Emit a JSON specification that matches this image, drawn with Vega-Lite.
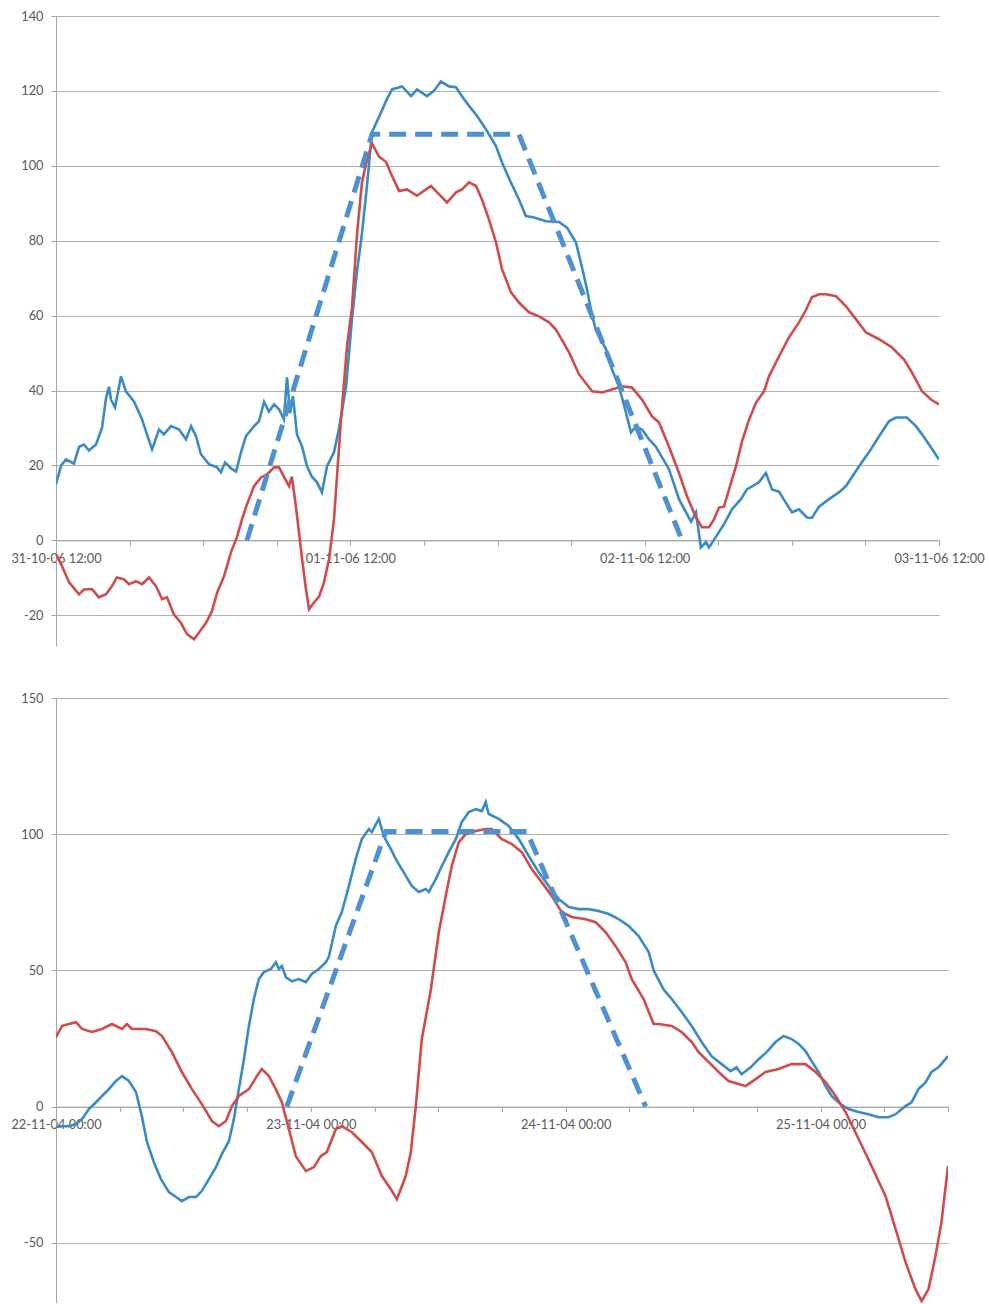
{
  "$schema": "https://vega.github.io/schema/vega-lite/v6.json",
  "background": "white",
  "padding": {"left": 10, "top": 10, "right": 0, "bottom": 0},
  "spacing": 52,
  "bounds": "flush",
  "config": {
    "view": {"stroke": null},
    "axis": {
      "labelFont": "Lato",
      "labelFontSize": 12.8,
      "labelColor": "#595959",
      "domainColor": "#a6a6a6",
      "tickColor": "#a6a6a6",
      "gridColor": "#b0b0b0",
      "domainWidth": 1,
      "gridWidth": 1,
      "tickWidth": 1,
      "title": null
    }
  },
  "datasets": {
    "top": [
      {"t": "2006-10-31T12:00", "v": 15, "series": "Series 1"},
      {"t": "2006-10-31T12:25", "v": 20, "series": "Series 1"},
      {"t": "2006-10-31T12:49", "v": 21.6, "series": "Series 1"},
      {"t": "2006-10-31T13:28", "v": 20.5, "series": "Series 1"},
      {"t": "2006-10-31T13:53", "v": 25, "series": "Series 1"},
      {"t": "2006-10-31T14:17", "v": 25.6, "series": "Series 1"},
      {"t": "2006-10-31T14:41", "v": 24, "series": "Series 1"},
      {"t": "2006-10-31T15:16", "v": 25.6, "series": "Series 1"},
      {"t": "2006-10-31T15:45", "v": 30, "series": "Series 1"},
      {"t": "2006-10-31T16:05", "v": 38, "series": "Series 1"},
      {"t": "2006-10-31T16:19", "v": 41, "series": "Series 1"},
      {"t": "2006-10-31T16:29", "v": 37.6, "series": "Series 1"},
      {"t": "2006-10-31T16:49", "v": 35.5, "series": "Series 1"},
      {"t": "2006-10-31T17:18", "v": 43.8, "series": "Series 1"},
      {"t": "2006-10-31T17:42", "v": 39.8, "series": "Series 1"},
      {"t": "2006-10-31T18:22", "v": 37, "series": "Series 1"},
      {"t": "2006-10-31T19:01", "v": 32.3, "series": "Series 1"},
      {"t": "2006-10-31T19:25", "v": 28.3, "series": "Series 1"},
      {"t": "2006-10-31T19:50", "v": 24.3, "series": "Series 1"},
      {"t": "2006-10-31T20:24", "v": 29.6, "series": "Series 1"},
      {"t": "2006-10-31T20:48", "v": 28.3, "series": "Series 1"},
      {"t": "2006-10-31T21:23", "v": 30.5, "series": "Series 1"},
      {"t": "2006-10-31T22:02", "v": 29.6, "series": "Series 1"},
      {"t": "2006-10-31T22:36", "v": 27, "series": "Series 1"},
      {"t": "2006-10-31T23:01", "v": 30.5, "series": "Series 1"},
      {"t": "2006-10-31T23:25", "v": 27.8, "series": "Series 1"},
      {"t": "2006-10-31T23:49", "v": 23, "series": "Series 1"},
      {"t": "2006-11-01T00:29", "v": 20.3, "series": "Series 1"},
      {"t": "2006-11-01T01:08", "v": 19.5, "series": "Series 1"},
      {"t": "2006-11-01T01:27", "v": 18.2, "series": "Series 1"},
      {"t": "2006-11-01T01:47", "v": 20.8, "series": "Series 1"},
      {"t": "2006-11-01T02:21", "v": 19, "series": "Series 1"},
      {"t": "2006-11-01T02:41", "v": 18.4, "series": "Series 1"},
      {"t": "2006-11-01T03:05", "v": 23.5, "series": "Series 1"},
      {"t": "2006-11-01T03:29", "v": 27.8, "series": "Series 1"},
      {"t": "2006-11-01T04:09", "v": 30.5, "series": "Series 1"},
      {"t": "2006-11-01T04:33", "v": 31.8, "series": "Series 1"},
      {"t": "2006-11-01T04:58", "v": 37, "series": "Series 1"},
      {"t": "2006-11-01T05:22", "v": 34.4, "series": "Series 1"},
      {"t": "2006-11-01T05:47", "v": 36.3, "series": "Series 1"},
      {"t": "2006-11-01T06:11", "v": 35, "series": "Series 1"},
      {"t": "2006-11-01T06:35", "v": 32.3, "series": "Series 1"},
      {"t": "2006-11-01T06:50", "v": 43.5, "series": "Series 1"},
      {"t": "2006-11-01T07:05", "v": 34, "series": "Series 1"},
      {"t": "2006-11-01T07:19", "v": 38.5, "series": "Series 1"},
      {"t": "2006-11-01T07:39", "v": 28.3, "series": "Series 1"},
      {"t": "2006-11-01T08:04", "v": 25, "series": "Series 1"},
      {"t": "2006-11-01T08:28", "v": 19.8, "series": "Series 1"},
      {"t": "2006-11-01T08:52", "v": 17, "series": "Series 1"},
      {"t": "2006-11-01T09:17", "v": 15.5, "series": "Series 1"},
      {"t": "2006-11-01T09:41", "v": 12.8, "series": "Series 1"},
      {"t": "2006-11-01T10:06", "v": 19.8, "series": "Series 1"},
      {"t": "2006-11-01T10:40", "v": 23.5, "series": "Series 1"},
      {"t": "2006-11-01T11:05", "v": 30, "series": "Series 1"},
      {"t": "2006-11-01T11:39", "v": 41, "series": "Series 1"},
      {"t": "2006-11-01T12:08", "v": 59, "series": "Series 1"},
      {"t": "2006-11-01T12:33", "v": 72, "series": "Series 1"},
      {"t": "2006-11-01T12:57", "v": 82, "series": "Series 1"},
      {"t": "2006-11-01T13:22", "v": 95, "series": "Series 1"},
      {"t": "2006-11-01T13:46", "v": 109, "series": "Series 1"},
      {"t": "2006-11-01T14:20", "v": 113, "series": "Series 1"},
      {"t": "2006-11-01T14:59", "v": 117.8, "series": "Series 1"},
      {"t": "2006-11-01T15:24", "v": 120.4, "series": "Series 1"},
      {"t": "2006-11-01T16:13", "v": 121.2, "series": "Series 1"},
      {"t": "2006-11-01T16:57", "v": 118.6, "series": "Series 1"},
      {"t": "2006-11-01T17:26", "v": 120.4, "series": "Series 1"},
      {"t": "2006-11-01T18:15", "v": 118.6, "series": "Series 1"},
      {"t": "2006-11-01T18:49", "v": 120, "series": "Series 1"},
      {"t": "2006-11-01T19:23", "v": 122.5, "series": "Series 1"},
      {"t": "2006-11-01T20:03", "v": 121.2, "series": "Series 1"},
      {"t": "2006-11-01T20:37", "v": 121, "series": "Series 1"},
      {"t": "2006-11-01T21:06", "v": 118.6, "series": "Series 1"},
      {"t": "2006-11-01T21:41", "v": 116, "series": "Series 1"},
      {"t": "2006-11-01T22:20", "v": 113.3, "series": "Series 1"},
      {"t": "2006-11-01T23:04", "v": 109.7, "series": "Series 1"},
      {"t": "2006-11-01T23:53", "v": 105.2, "series": "Series 1"},
      {"t": "2006-11-02T00:22", "v": 100.9, "series": "Series 1"},
      {"t": "2006-11-02T01:06", "v": 95.5, "series": "Series 1"},
      {"t": "2006-11-02T01:45", "v": 91, "series": "Series 1"},
      {"t": "2006-11-02T02:19", "v": 86.6, "series": "Series 1"},
      {"t": "2006-11-02T02:59", "v": 86.2, "series": "Series 1"},
      {"t": "2006-11-02T03:57", "v": 85.2, "series": "Series 1"},
      {"t": "2006-11-02T05:01", "v": 85, "series": "Series 1"},
      {"t": "2006-11-02T05:40", "v": 83.5, "series": "Series 1"},
      {"t": "2006-11-02T06:24", "v": 79.5, "series": "Series 1"},
      {"t": "2006-11-02T06:53", "v": 73, "series": "Series 1"},
      {"t": "2006-11-02T07:18", "v": 67, "series": "Series 1"},
      {"t": "2006-11-02T07:43", "v": 60, "series": "Series 1"},
      {"t": "2006-11-02T08:02", "v": 56, "series": "Series 1"},
      {"t": "2006-11-02T08:51", "v": 51, "series": "Series 1"},
      {"t": "2006-11-02T09:20", "v": 45.7, "series": "Series 1"},
      {"t": "2006-11-02T09:55", "v": 41, "series": "Series 1"},
      {"t": "2006-11-02T10:29", "v": 34, "series": "Series 1"},
      {"t": "2006-11-02T10:53", "v": 28.8, "series": "Series 1"},
      {"t": "2006-11-02T11:17", "v": 30.4, "series": "Series 1"},
      {"t": "2006-11-02T11:47", "v": 29.6, "series": "Series 1"},
      {"t": "2006-11-02T12:21", "v": 27, "series": "Series 1"},
      {"t": "2006-11-02T12:55", "v": 25, "series": "Series 1"},
      {"t": "2006-11-02T13:59", "v": 19, "series": "Series 1"},
      {"t": "2006-11-02T14:48", "v": 11, "series": "Series 1"},
      {"t": "2006-11-02T15:47", "v": 5, "series": "Series 1"},
      {"t": "2006-11-02T16:11", "v": 7.5, "series": "Series 1"},
      {"t": "2006-11-02T16:35", "v": -1.9, "series": "Series 1"},
      {"t": "2006-11-02T17:00", "v": -0.5, "series": "Series 1"},
      {"t": "2006-11-02T17:15", "v": -1.9, "series": "Series 1"},
      {"t": "2006-11-02T17:49", "v": 1, "series": "Series 1"},
      {"t": "2006-11-02T18:28", "v": 4.3, "series": "Series 1"},
      {"t": "2006-11-02T19:07", "v": 8.3, "series": "Series 1"},
      {"t": "2006-11-02T19:51", "v": 11, "series": "Series 1"},
      {"t": "2006-11-02T20:20", "v": 13.6, "series": "Series 1"},
      {"t": "2006-11-02T21:19", "v": 15.5, "series": "Series 1"},
      {"t": "2006-11-02T21:53", "v": 18, "series": "Series 1"},
      {"t": "2006-11-02T22:23", "v": 13.6, "series": "Series 1"},
      {"t": "2006-11-02T22:57", "v": 13, "series": "Series 1"},
      {"t": "2006-11-02T23:31", "v": 10, "series": "Series 1"},
      {"t": "2006-11-03T00:01", "v": 7.5, "series": "Series 1"},
      {"t": "2006-11-03T00:35", "v": 8.3, "series": "Series 1"},
      {"t": "2006-11-03T01:14", "v": 6.1, "series": "Series 1"},
      {"t": "2006-11-03T01:38", "v": 6, "series": "Series 1"},
      {"t": "2006-11-03T02:13", "v": 9, "series": "Series 1"},
      {"t": "2006-11-03T03:02", "v": 11, "series": "Series 1"},
      {"t": "2006-11-03T03:50", "v": 12.8, "series": "Series 1"},
      {"t": "2006-11-03T04:25", "v": 14.5, "series": "Series 1"},
      {"t": "2006-11-03T04:55", "v": 17, "series": "Series 1"},
      {"t": "2006-11-03T05:29", "v": 19.8, "series": "Series 1"},
      {"t": "2006-11-03T06:17", "v": 23.5, "series": "Series 1"},
      {"t": "2006-11-03T07:07", "v": 27.8, "series": "Series 1"},
      {"t": "2006-11-03T07:55", "v": 31.8, "series": "Series 1"},
      {"t": "2006-11-03T08:29", "v": 32.8, "series": "Series 1"},
      {"t": "2006-11-03T09:23", "v": 32.8, "series": "Series 1"},
      {"t": "2006-11-03T10:07", "v": 30.5, "series": "Series 1"},
      {"t": "2006-11-03T10:37", "v": 28.3, "series": "Series 1"},
      {"t": "2006-11-03T11:21", "v": 24.8, "series": "Series 1"},
      {"t": "2006-11-03T12:00", "v": 21.6, "series": "Series 1"},
      {"t": "2006-10-31T12:00", "v": -3.7, "series": "Series 2"},
      {"t": "2006-10-31T12:25", "v": -6.4, "series": "Series 2"},
      {"t": "2006-10-31T13:04", "v": -11.2, "series": "Series 2"},
      {"t": "2006-10-31T13:53", "v": -14.4, "series": "Series 2"},
      {"t": "2006-10-31T14:17", "v": -13.1, "series": "Series 2"},
      {"t": "2006-10-31T14:56", "v": -13, "series": "Series 2"},
      {"t": "2006-10-31T15:30", "v": -15.2, "series": "Series 2"},
      {"t": "2006-10-31T16:05", "v": -14.4, "series": "Series 2"},
      {"t": "2006-10-31T16:34", "v": -12.2, "series": "Series 2"},
      {"t": "2006-10-31T16:58", "v": -9.9, "series": "Series 2"},
      {"t": "2006-10-31T17:33", "v": -10.4, "series": "Series 2"},
      {"t": "2006-10-31T17:57", "v": -11.7, "series": "Series 2"},
      {"t": "2006-10-31T18:31", "v": -10.9, "series": "Series 2"},
      {"t": "2006-10-31T19:01", "v": -11.7, "series": "Series 2"},
      {"t": "2006-10-31T19:35", "v": -9.9, "series": "Series 2"},
      {"t": "2006-10-31T20:09", "v": -12.2, "series": "Series 2"},
      {"t": "2006-10-31T20:39", "v": -15.7, "series": "Series 2"},
      {"t": "2006-10-31T21:03", "v": -15.2, "series": "Series 2"},
      {"t": "2006-10-31T21:37", "v": -19.8, "series": "Series 2"},
      {"t": "2006-10-31T22:11", "v": -22, "series": "Series 2"},
      {"t": "2006-10-31T22:41", "v": -25, "series": "Series 2"},
      {"t": "2006-10-31T23:15", "v": -26.4, "series": "Series 2"},
      {"t": "2006-10-31T23:40", "v": -24.6, "series": "Series 2"},
      {"t": "2006-11-01T00:14", "v": -22, "series": "Series 2"},
      {"t": "2006-11-01T00:43", "v": -18.9, "series": "Series 2"},
      {"t": "2006-11-01T01:08", "v": -14, "series": "Series 2"},
      {"t": "2006-11-01T01:42", "v": -9.6, "series": "Series 2"},
      {"t": "2006-11-01T02:16", "v": -3.2, "series": "Series 2"},
      {"t": "2006-11-01T02:46", "v": 1, "series": "Series 2"},
      {"t": "2006-11-01T03:10", "v": 5.6, "series": "Series 2"},
      {"t": "2006-11-01T03:34", "v": 9.6, "series": "Series 2"},
      {"t": "2006-11-01T04:09", "v": 14.5, "series": "Series 2"},
      {"t": "2006-11-01T04:43", "v": 16.8, "series": "Series 2"},
      {"t": "2006-11-01T05:12", "v": 17.6, "series": "Series 2"},
      {"t": "2006-11-01T05:47", "v": 19.5, "series": "Series 2"},
      {"t": "2006-11-01T06:11", "v": 19.5, "series": "Series 2"},
      {"t": "2006-11-01T06:35", "v": 17, "series": "Series 2"},
      {"t": "2006-11-01T07:00", "v": 14.5, "series": "Series 2"},
      {"t": "2006-11-01T07:14", "v": 17, "series": "Series 2"},
      {"t": "2006-11-01T07:34", "v": 9, "series": "Series 2"},
      {"t": "2006-11-01T07:49", "v": 2, "series": "Series 2"},
      {"t": "2006-11-01T08:04", "v": -5, "series": "Series 2"},
      {"t": "2006-11-01T08:23", "v": -13, "series": "Series 2"},
      {"t": "2006-11-01T08:38", "v": -18.4, "series": "Series 2"},
      {"t": "2006-11-01T09:02", "v": -16.6, "series": "Series 2"},
      {"t": "2006-11-01T09:27", "v": -15, "series": "Series 2"},
      {"t": "2006-11-01T09:51", "v": -11.2, "series": "Series 2"},
      {"t": "2006-11-01T10:16", "v": -5, "series": "Series 2"},
      {"t": "2006-11-01T10:40", "v": 5.6, "series": "Series 2"},
      {"t": "2006-11-01T11:14", "v": 32, "series": "Series 2"},
      {"t": "2006-11-01T11:44", "v": 52, "series": "Series 2"},
      {"t": "2006-11-01T12:08", "v": 62, "series": "Series 2"},
      {"t": "2006-11-01T12:33", "v": 82, "series": "Series 2"},
      {"t": "2006-11-01T12:57", "v": 95.6, "series": "Series 2"},
      {"t": "2006-11-01T13:22", "v": 101.7, "series": "Series 2"},
      {"t": "2006-11-01T13:46", "v": 106, "series": "Series 2"},
      {"t": "2006-11-01T14:20", "v": 102.5, "series": "Series 2"},
      {"t": "2006-11-01T14:55", "v": 101, "series": "Series 2"},
      {"t": "2006-11-01T15:24", "v": 97.3, "series": "Series 2"},
      {"t": "2006-11-01T15:58", "v": 93.3, "series": "Series 2"},
      {"t": "2006-11-01T16:37", "v": 93.7, "series": "Series 2"},
      {"t": "2006-11-01T17:26", "v": 92, "series": "Series 2"},
      {"t": "2006-11-01T18:10", "v": 93.7, "series": "Series 2"},
      {"t": "2006-11-01T18:35", "v": 94.6, "series": "Series 2"},
      {"t": "2006-11-01T19:14", "v": 92.4, "series": "Series 2"},
      {"t": "2006-11-01T19:53", "v": 90.2, "series": "Series 2"},
      {"t": "2006-11-01T20:37", "v": 92.9, "series": "Series 2"},
      {"t": "2006-11-01T21:06", "v": 93.7, "series": "Series 2"},
      {"t": "2006-11-01T21:41", "v": 95.6, "series": "Series 2"},
      {"t": "2006-11-01T22:15", "v": 94.6, "series": "Series 2"},
      {"t": "2006-11-01T22:44", "v": 91, "series": "Series 2"},
      {"t": "2006-11-01T23:18", "v": 85.7, "series": "Series 2"},
      {"t": "2006-11-01T23:53", "v": 79.5, "series": "Series 2"},
      {"t": "2006-11-02T00:22", "v": 72.4, "series": "Series 2"},
      {"t": "2006-11-02T01:06", "v": 66.2, "series": "Series 2"},
      {"t": "2006-11-02T01:45", "v": 63.5, "series": "Series 2"},
      {"t": "2006-11-02T02:34", "v": 60.9, "series": "Series 2"},
      {"t": "2006-11-02T03:23", "v": 59.8, "series": "Series 2"},
      {"t": "2006-11-02T04:12", "v": 58.2, "series": "Series 2"},
      {"t": "2006-11-02T04:46", "v": 56.3, "series": "Series 2"},
      {"t": "2006-11-02T05:50", "v": 50.2, "series": "Series 2"},
      {"t": "2006-11-02T06:39", "v": 44.3, "series": "Series 2"},
      {"t": "2006-11-02T07:43", "v": 39.8, "series": "Series 2"},
      {"t": "2006-11-02T08:31", "v": 39.5, "series": "Series 2"},
      {"t": "2006-11-02T09:20", "v": 40.3, "series": "Series 2"},
      {"t": "2006-11-02T10:09", "v": 41.1, "series": "Series 2"},
      {"t": "2006-11-02T10:58", "v": 40.8, "series": "Series 2"},
      {"t": "2006-11-02T11:47", "v": 37.6, "series": "Series 2"},
      {"t": "2006-11-02T12:36", "v": 33.1, "series": "Series 2"},
      {"t": "2006-11-02T13:10", "v": 31.5, "series": "Series 2"},
      {"t": "2006-11-02T13:59", "v": 25, "series": "Series 2"},
      {"t": "2006-11-02T14:48", "v": 18, "series": "Series 2"},
      {"t": "2006-11-02T15:27", "v": 11.8, "series": "Series 2"},
      {"t": "2006-11-02T16:11", "v": 6.1, "series": "Series 2"},
      {"t": "2006-11-02T16:40", "v": 3.5, "series": "Series 2"},
      {"t": "2006-11-02T17:15", "v": 3.5, "series": "Series 2"},
      {"t": "2006-11-02T17:39", "v": 5.6, "series": "Series 2"},
      {"t": "2006-11-02T18:04", "v": 8.8, "series": "Series 2"},
      {"t": "2006-11-02T18:28", "v": 9, "series": "Series 2"},
      {"t": "2006-11-02T18:53", "v": 13.6, "series": "Series 2"},
      {"t": "2006-11-02T19:27", "v": 19.8, "series": "Series 2"},
      {"t": "2006-11-02T19:56", "v": 26.4, "series": "Series 2"},
      {"t": "2006-11-02T20:31", "v": 32.3, "series": "Series 2"},
      {"t": "2006-11-02T21:05", "v": 36.8, "series": "Series 2"},
      {"t": "2006-11-02T21:44", "v": 39.8, "series": "Series 2"},
      {"t": "2006-11-02T22:08", "v": 43.8, "series": "Series 2"},
      {"t": "2006-11-02T22:57", "v": 49.1, "series": "Series 2"},
      {"t": "2006-11-02T23:46", "v": 54.2, "series": "Series 2"},
      {"t": "2006-11-03T00:35", "v": 58.2, "series": "Series 2"},
      {"t": "2006-11-03T01:09", "v": 61.5, "series": "Series 2"},
      {"t": "2006-11-03T01:38", "v": 64.9, "series": "Series 2"},
      {"t": "2006-11-03T02:13", "v": 65.7, "series": "Series 2"},
      {"t": "2006-11-03T02:47", "v": 65.7, "series": "Series 2"},
      {"t": "2006-11-03T03:36", "v": 65.2, "series": "Series 2"},
      {"t": "2006-11-03T04:25", "v": 62.5, "series": "Series 2"},
      {"t": "2006-11-03T05:14", "v": 59, "series": "Series 2"},
      {"t": "2006-11-03T06:03", "v": 55.5, "series": "Series 2"},
      {"t": "2006-11-03T07:07", "v": 53.7, "series": "Series 2"},
      {"t": "2006-11-03T08:10", "v": 51.5, "series": "Series 2"},
      {"t": "2006-11-03T09:09", "v": 48.3, "series": "Series 2"},
      {"t": "2006-11-03T09:48", "v": 44.8, "series": "Series 2"},
      {"t": "2006-11-03T10:37", "v": 39.8, "series": "Series 2"},
      {"t": "2006-11-03T11:21", "v": 37.6, "series": "Series 2"},
      {"t": "2006-11-03T12:00", "v": 36.3, "series": "Series 2"},
      {"t": "2006-11-01T03:34", "v": 0, "series": "Series 3"},
      {"t": "2006-11-01T13:46", "v": 108.4, "series": "Series 3"},
      {"t": "2006-11-02T01:45", "v": 108.4, "series": "Series 3"},
      {"t": "2006-11-02T15:03", "v": 0, "series": "Series 3"}
    ],
    "bottom": [
      {"t": "2004-11-22T00:00", "v": -7.5, "series": "Series 1"},
      {"t": "2004-11-22T00:34", "v": -7.2, "series": "Series 1"},
      {"t": "2004-11-22T01:13", "v": -7.2, "series": "Series 1"},
      {"t": "2004-11-22T01:53", "v": -6.4, "series": "Series 1"},
      {"t": "2004-11-22T02:27", "v": -4.6, "series": "Series 1"},
      {"t": "2004-11-22T03:06", "v": -0.9, "series": "Series 1"},
      {"t": "2004-11-22T03:46", "v": 1.6, "series": "Series 1"},
      {"t": "2004-11-22T04:20", "v": 3.9, "series": "Series 1"},
      {"t": "2004-11-22T04:59", "v": 6.4, "series": "Series 1"},
      {"t": "2004-11-22T05:39", "v": 9.4, "series": "Series 1"},
      {"t": "2004-11-22T06:13", "v": 11.2, "series": "Series 1"},
      {"t": "2004-11-22T06:52", "v": 9.4, "series": "Series 1"},
      {"t": "2004-11-22T07:32", "v": 5.3, "series": "Series 1"},
      {"t": "2004-11-22T08:05", "v": -3.5, "series": "Series 1"},
      {"t": "2004-11-22T08:34", "v": -13, "series": "Series 1"},
      {"t": "2004-11-22T09:13", "v": -20.4, "series": "Series 1"},
      {"t": "2004-11-22T09:53", "v": -26.6, "series": "Series 1"},
      {"t": "2004-11-22T10:38", "v": -31.4, "series": "Series 1"},
      {"t": "2004-11-22T11:18", "v": -33.2, "series": "Series 1"},
      {"t": "2004-11-22T11:51", "v": -34.7, "series": "Series 1"},
      {"t": "2004-11-22T12:31", "v": -33.2, "series": "Series 1"},
      {"t": "2004-11-22T13:11", "v": -33.2, "series": "Series 1"},
      {"t": "2004-11-22T13:44", "v": -31, "series": "Series 1"},
      {"t": "2004-11-22T14:24", "v": -26.6, "series": "Series 1"},
      {"t": "2004-11-22T15:04", "v": -22.2, "series": "Series 1"},
      {"t": "2004-11-22T15:37", "v": -17.4, "series": "Series 1"},
      {"t": "2004-11-22T16:17", "v": -12.7, "series": "Series 1"},
      {"t": "2004-11-22T16:45", "v": -4.6, "series": "Series 1"},
      {"t": "2004-11-22T17:13", "v": 6.4, "series": "Series 1"},
      {"t": "2004-11-22T17:42", "v": 17.4, "series": "Series 1"},
      {"t": "2004-11-22T18:10", "v": 29.6, "series": "Series 1"},
      {"t": "2004-11-22T18:38", "v": 39.5, "series": "Series 1"},
      {"t": "2004-11-22T19:06", "v": 46.8, "series": "Series 1"},
      {"t": "2004-11-22T19:35", "v": 49.4, "series": "Series 1"},
      {"t": "2004-11-22T20:14", "v": 50.5, "series": "Series 1"},
      {"t": "2004-11-22T20:42", "v": 53, "series": "Series 1"},
      {"t": "2004-11-22T20:59", "v": 50.5, "series": "Series 1"},
      {"t": "2004-11-22T21:16", "v": 51.6, "series": "Series 1"},
      {"t": "2004-11-22T21:39", "v": 47.5, "series": "Series 1"},
      {"t": "2004-11-22T22:13", "v": 46, "series": "Series 1"},
      {"t": "2004-11-22T22:52", "v": 46.8, "series": "Series 1"},
      {"t": "2004-11-22T23:32", "v": 45.7, "series": "Series 1"},
      {"t": "2004-11-23T00:05", "v": 48.7, "series": "Series 1"},
      {"t": "2004-11-23T00:45", "v": 50.5, "series": "Series 1"},
      {"t": "2004-11-23T01:25", "v": 53, "series": "Series 1"},
      {"t": "2004-11-23T01:42", "v": 55, "series": "Series 1"},
      {"t": "2004-11-23T02:21", "v": 66.3, "series": "Series 1"},
      {"t": "2004-11-23T02:55", "v": 71.4, "series": "Series 1"},
      {"t": "2004-11-23T03:35", "v": 81, "series": "Series 1"},
      {"t": "2004-11-23T04:14", "v": 91, "series": "Series 1"},
      {"t": "2004-11-23T04:48", "v": 98.2, "series": "Series 1"},
      {"t": "2004-11-23T05:28", "v": 101.9, "series": "Series 1"},
      {"t": "2004-11-23T05:44", "v": 100.8, "series": "Series 1"},
      {"t": "2004-11-23T06:24", "v": 105.6, "series": "Series 1"},
      {"t": "2004-11-23T06:52", "v": 99.3, "series": "Series 1"},
      {"t": "2004-11-23T07:32", "v": 94.5, "series": "Series 1"},
      {"t": "2004-11-23T08:06", "v": 90.1, "series": "Series 1"},
      {"t": "2004-11-23T08:45", "v": 86, "series": "Series 1"},
      {"t": "2004-11-23T09:30", "v": 81, "series": "Series 1"},
      {"t": "2004-11-23T10:10", "v": 78.8, "series": "Series 1"},
      {"t": "2004-11-23T10:49", "v": 79.9, "series": "Series 1"},
      {"t": "2004-11-23T11:06", "v": 78.8, "series": "Series 1"},
      {"t": "2004-11-23T11:46", "v": 83.5, "series": "Series 1"},
      {"t": "2004-11-23T12:20", "v": 88.3, "series": "Series 1"},
      {"t": "2004-11-23T12:59", "v": 93.4, "series": "Series 1"},
      {"t": "2004-11-23T13:39", "v": 98.2, "series": "Series 1"},
      {"t": "2004-11-23T14:13", "v": 104.5, "series": "Series 1"},
      {"t": "2004-11-23T14:52", "v": 108.1, "series": "Series 1"},
      {"t": "2004-11-23T15:32", "v": 109.2, "series": "Series 1"},
      {"t": "2004-11-23T16:06", "v": 108.5, "series": "Series 1"},
      {"t": "2004-11-23T16:28", "v": 111.8, "series": "Series 1"},
      {"t": "2004-11-23T16:45", "v": 107.4, "series": "Series 1"},
      {"t": "2004-11-23T17:42", "v": 105.6, "series": "Series 1"},
      {"t": "2004-11-23T18:38", "v": 103, "series": "Series 1"},
      {"t": "2004-11-23T19:35", "v": 98.2, "series": "Series 1"},
      {"t": "2004-11-23T20:31", "v": 92, "series": "Series 1"},
      {"t": "2004-11-23T21:28", "v": 86, "series": "Series 1"},
      {"t": "2004-11-23T22:24", "v": 81, "series": "Series 1"},
      {"t": "2004-11-23T23:21", "v": 76.2, "series": "Series 1"},
      {"t": "2004-11-24T00:17", "v": 73.3, "series": "Series 1"},
      {"t": "2004-11-24T01:13", "v": 72.5, "series": "Series 1"},
      {"t": "2004-11-24T02:10", "v": 72.5, "series": "Series 1"},
      {"t": "2004-11-24T03:06", "v": 71.8, "series": "Series 1"},
      {"t": "2004-11-24T04:03", "v": 70.7, "series": "Series 1"},
      {"t": "2004-11-24T04:59", "v": 68.8, "series": "Series 1"},
      {"t": "2004-11-24T05:56", "v": 66.3, "series": "Series 1"},
      {"t": "2004-11-24T06:52", "v": 62.6, "series": "Series 1"},
      {"t": "2004-11-24T07:49", "v": 56.7, "series": "Series 1"},
      {"t": "2004-11-24T08:17", "v": 50, "series": "Series 1"},
      {"t": "2004-11-24T09:13", "v": 43, "series": "Series 1"},
      {"t": "2004-11-24T09:59", "v": 39.5, "series": "Series 1"},
      {"t": "2004-11-24T10:55", "v": 34.7, "series": "Series 1"},
      {"t": "2004-11-24T11:52", "v": 29.6, "series": "Series 1"},
      {"t": "2004-11-24T12:48", "v": 23.7, "series": "Series 1"},
      {"t": "2004-11-24T13:44", "v": 18.5, "series": "Series 1"},
      {"t": "2004-11-24T14:41", "v": 15.6, "series": "Series 1"},
      {"t": "2004-11-24T15:32", "v": 13, "series": "Series 1"},
      {"t": "2004-11-24T16:05", "v": 14.4, "series": "Series 1"},
      {"t": "2004-11-24T16:34", "v": 11.9, "series": "Series 1"},
      {"t": "2004-11-24T17:25", "v": 14.4, "series": "Series 1"},
      {"t": "2004-11-24T18:10", "v": 17.4, "series": "Series 1"},
      {"t": "2004-11-24T18:55", "v": 20, "series": "Series 1"},
      {"t": "2004-11-24T19:46", "v": 23.7, "series": "Series 1"},
      {"t": "2004-11-24T20:31", "v": 25.9, "series": "Series 1"},
      {"t": "2004-11-24T21:16", "v": 24.8, "series": "Series 1"},
      {"t": "2004-11-24T21:56", "v": 23, "series": "Series 1"},
      {"t": "2004-11-24T22:35", "v": 20.4, "series": "Series 1"},
      {"t": "2004-11-24T23:09", "v": 16.7, "series": "Series 1"},
      {"t": "2004-11-24T23:49", "v": 12.7, "series": "Series 1"},
      {"t": "2004-11-25T00:28", "v": 7.5, "series": "Series 1"},
      {"t": "2004-11-25T01:02", "v": 3.9, "series": "Series 1"},
      {"t": "2004-11-25T01:53", "v": 0.9, "series": "Series 1"},
      {"t": "2004-11-25T02:38", "v": -0.9, "series": "Series 1"},
      {"t": "2004-11-25T03:35", "v": -2, "series": "Series 1"},
      {"t": "2004-11-25T04:31", "v": -2.8, "series": "Series 1"},
      {"t": "2004-11-25T05:28", "v": -3.9, "series": "Series 1"},
      {"t": "2004-11-25T06:24", "v": -3.9, "series": "Series 1"},
      {"t": "2004-11-25T07:04", "v": -2.8, "series": "Series 1"},
      {"t": "2004-11-25T08:00", "v": 0.2, "series": "Series 1"},
      {"t": "2004-11-25T08:34", "v": 1.6, "series": "Series 1"},
      {"t": "2004-11-25T09:13", "v": 6.4, "series": "Series 1"},
      {"t": "2004-11-25T09:53", "v": 8.9, "series": "Series 1"},
      {"t": "2004-11-25T10:27", "v": 12.7, "series": "Series 1"},
      {"t": "2004-11-25T11:06", "v": 14.4, "series": "Series 1"},
      {"t": "2004-11-25T12:00", "v": 18.5, "series": "Series 1"},
      {"t": "2004-11-22T00:00", "v": 25.5, "series": "Series 2"},
      {"t": "2004-11-22T00:34", "v": 29.6, "series": "Series 2"},
      {"t": "2004-11-22T01:13", "v": 30.3, "series": "Series 2"},
      {"t": "2004-11-22T01:53", "v": 31, "series": "Series 2"},
      {"t": "2004-11-22T02:27", "v": 28.5, "series": "Series 2"},
      {"t": "2004-11-22T03:23", "v": 27.4, "series": "Series 2"},
      {"t": "2004-11-22T04:20", "v": 28.5, "series": "Series 2"},
      {"t": "2004-11-22T05:16", "v": 30.3, "series": "Series 2"},
      {"t": "2004-11-22T06:13", "v": 28.5, "series": "Series 2"},
      {"t": "2004-11-22T06:41", "v": 30.3, "series": "Series 2"},
      {"t": "2004-11-22T07:09", "v": 28.5, "series": "Series 2"},
      {"t": "2004-11-22T08:28", "v": 28.5, "series": "Series 2"},
      {"t": "2004-11-22T09:25", "v": 27.7, "series": "Series 2"},
      {"t": "2004-11-22T09:59", "v": 25.9, "series": "Series 2"},
      {"t": "2004-11-22T10:55", "v": 20, "series": "Series 2"},
      {"t": "2004-11-22T11:51", "v": 12.7, "series": "Series 2"},
      {"t": "2004-11-22T12:48", "v": 6.4, "series": "Series 2"},
      {"t": "2004-11-22T13:44", "v": 0.9, "series": "Series 2"},
      {"t": "2004-11-22T14:41", "v": -5.3, "series": "Series 2"},
      {"t": "2004-11-22T15:20", "v": -7.2, "series": "Series 2"},
      {"t": "2004-11-22T16:00", "v": -5.3, "series": "Series 2"},
      {"t": "2004-11-22T16:34", "v": 0.2, "series": "Series 2"},
      {"t": "2004-11-22T17:13", "v": 3.9, "series": "Series 2"},
      {"t": "2004-11-22T18:10", "v": 6.4, "series": "Series 2"},
      {"t": "2004-11-22T18:55", "v": 11.2, "series": "Series 2"},
      {"t": "2004-11-22T19:23", "v": 13.8, "series": "Series 2"},
      {"t": "2004-11-22T20:03", "v": 11.2, "series": "Series 2"},
      {"t": "2004-11-22T20:42", "v": 6.4, "series": "Series 2"},
      {"t": "2004-11-22T21:16", "v": 1.6, "series": "Series 2"},
      {"t": "2004-11-22T21:56", "v": -8.3, "series": "Series 2"},
      {"t": "2004-11-22T22:35", "v": -18.2, "series": "Series 2"},
      {"t": "2004-11-22T23:32", "v": -23.7, "series": "Series 2"},
      {"t": "2004-11-23T00:17", "v": -22.2, "series": "Series 2"},
      {"t": "2004-11-23T00:56", "v": -18.2, "series": "Series 2"},
      {"t": "2004-11-23T01:30", "v": -16.7, "series": "Series 2"},
      {"t": "2004-11-23T02:21", "v": -8.3, "series": "Series 2"},
      {"t": "2004-11-23T02:55", "v": -7.2, "series": "Series 2"},
      {"t": "2004-11-23T03:52", "v": -9.4, "series": "Series 2"},
      {"t": "2004-11-23T04:48", "v": -13, "series": "Series 2"},
      {"t": "2004-11-23T05:44", "v": -16.7, "series": "Series 2"},
      {"t": "2004-11-23T06:41", "v": -25.5, "series": "Series 2"},
      {"t": "2004-11-23T07:32", "v": -30.3, "series": "Series 2"},
      {"t": "2004-11-23T08:06", "v": -34, "series": "Series 2"},
      {"t": "2004-11-23T08:56", "v": -25.5, "series": "Series 2"},
      {"t": "2004-11-23T09:25", "v": -16.7, "series": "Series 2"},
      {"t": "2004-11-23T09:53", "v": 0.2, "series": "Series 2"},
      {"t": "2004-11-23T10:27", "v": 24.8, "series": "Series 2"},
      {"t": "2004-11-23T11:18", "v": 43, "series": "Series 2"},
      {"t": "2004-11-23T12:03", "v": 64, "series": "Series 2"},
      {"t": "2004-11-23T12:42", "v": 77.3, "series": "Series 2"},
      {"t": "2004-11-23T13:16", "v": 88.3, "series": "Series 2"},
      {"t": "2004-11-23T13:56", "v": 97.1, "series": "Series 2"},
      {"t": "2004-11-23T14:35", "v": 100, "series": "Series 2"},
      {"t": "2004-11-23T15:32", "v": 101.2, "series": "Series 2"},
      {"t": "2004-11-23T16:28", "v": 101.9, "series": "Series 2"},
      {"t": "2004-11-23T17:02", "v": 101.9, "series": "Series 2"},
      {"t": "2004-11-23T17:59", "v": 98.2, "series": "Series 2"},
      {"t": "2004-11-23T18:55", "v": 96.4, "series": "Series 2"},
      {"t": "2004-11-23T19:52", "v": 93.4, "series": "Series 2"},
      {"t": "2004-11-23T20:48", "v": 87.2, "series": "Series 2"},
      {"t": "2004-11-23T21:44", "v": 82.4, "series": "Series 2"},
      {"t": "2004-11-23T22:41", "v": 77.3, "series": "Series 2"},
      {"t": "2004-11-23T23:37", "v": 71.4, "series": "Series 2"},
      {"t": "2004-11-24T00:34", "v": 69.6, "series": "Series 2"},
      {"t": "2004-11-24T01:53", "v": 68.8, "series": "Series 2"},
      {"t": "2004-11-24T02:49", "v": 67.7, "series": "Series 2"},
      {"t": "2004-11-24T03:46", "v": 64, "series": "Series 2"},
      {"t": "2004-11-24T04:42", "v": 58.9, "series": "Series 2"},
      {"t": "2004-11-24T05:39", "v": 53, "series": "Series 2"},
      {"t": "2004-11-24T06:13", "v": 46.8, "series": "Series 2"},
      {"t": "2004-11-24T07:20", "v": 39.5, "series": "Series 2"},
      {"t": "2004-11-24T08:17", "v": 30.3, "series": "Series 2"},
      {"t": "2004-11-24T08:45", "v": 30.3, "series": "Series 2"},
      {"t": "2004-11-24T09:59", "v": 29.6, "series": "Series 2"},
      {"t": "2004-11-24T10:55", "v": 27.4, "series": "Series 2"},
      {"t": "2004-11-24T11:52", "v": 23.7, "series": "Series 2"},
      {"t": "2004-11-24T12:31", "v": 20, "series": "Series 2"},
      {"t": "2004-11-24T13:28", "v": 16.3, "series": "Series 2"},
      {"t": "2004-11-24T14:24", "v": 12.7, "series": "Series 2"},
      {"t": "2004-11-24T15:20", "v": 9.4, "series": "Series 2"},
      {"t": "2004-11-24T16:17", "v": 8.3, "series": "Series 2"},
      {"t": "2004-11-24T16:56", "v": 7.5, "series": "Series 2"},
      {"t": "2004-11-24T17:53", "v": 10.1, "series": "Series 2"},
      {"t": "2004-11-24T18:49", "v": 12.7, "series": "Series 2"},
      {"t": "2004-11-24T20:03", "v": 13.8, "series": "Series 2"},
      {"t": "2004-11-24T21:16", "v": 15.6, "series": "Series 2"},
      {"t": "2004-11-24T22:35", "v": 15.6, "series": "Series 2"},
      {"t": "2004-11-24T23:32", "v": 12.7, "series": "Series 2"},
      {"t": "2004-11-25T00:28", "v": 9, "series": "Series 2"},
      {"t": "2004-11-25T01:25", "v": 3.9, "series": "Series 2"},
      {"t": "2004-11-25T02:21", "v": -2, "series": "Series 2"},
      {"t": "2004-11-25T03:35", "v": -11.9, "series": "Series 2"},
      {"t": "2004-11-25T04:48", "v": -21.8, "series": "Series 2"},
      {"t": "2004-11-25T06:07", "v": -32.9, "series": "Series 2"},
      {"t": "2004-11-25T07:04", "v": -45, "series": "Series 2"},
      {"t": "2004-11-25T08:00", "v": -57.1, "series": "Series 2"},
      {"t": "2004-11-25T08:56", "v": -67, "series": "Series 2"},
      {"t": "2004-11-25T09:31", "v": -71.4, "series": "Series 2"},
      {"t": "2004-11-25T10:10", "v": -67, "series": "Series 2"},
      {"t": "2004-11-25T10:49", "v": -54.9, "series": "Series 2"},
      {"t": "2004-11-25T11:23", "v": -42.5, "series": "Series 2"},
      {"t": "2004-11-25T12:00", "v": -21.8, "series": "Series 2"},
      {"t": "2004-11-22T21:44", "v": 0, "series": "Series 3"},
      {"t": "2004-11-23T07:04", "v": 101, "series": "Series 3"},
      {"t": "2004-11-23T20:20", "v": 101, "series": "Series 3"},
      {"t": "2004-11-24T07:32", "v": 0, "series": "Series 3"}
    ]
  },
  "vconcat": [
    {
      "width": 883,
      "height": 630,
      "data": {"name": "top"},
      "encoding": {
        "x": {
          "field": "t",
          "type": "temporal",
          "scale": {
            "domain": [
              {"year": 2006, "month": 10, "date": 31, "hours": 12},
              {"year": 2006, "month": 11, "date": 3, "hours": 12}
            ],
            "nice": false
          },
          "axis": {
            "offset": -105.6,
            "values": [
              {"year": 2006, "month": 10, "date": 31, "hours": 12},
              {"year": 2006, "month": 10, "date": 31, "hours": 18},
              {"year": 2006, "month": 11, "date": 1, "hours": 0},
              {"year": 2006, "month": 11, "date": 1, "hours": 6},
              {"year": 2006, "month": 11, "date": 1, "hours": 12},
              {"year": 2006, "month": 11, "date": 1, "hours": 18},
              {"year": 2006, "month": 11, "date": 2, "hours": 0},
              {"year": 2006, "month": 11, "date": 2, "hours": 6},
              {"year": 2006, "month": 11, "date": 2, "hours": 12},
              {"year": 2006, "month": 11, "date": 2, "hours": 18},
              {"year": 2006, "month": 11, "date": 3, "hours": 0},
              {"year": 2006, "month": 11, "date": 3, "hours": 6},
              {"year": 2006, "month": 11, "date": 3, "hours": 12}
            ],
            "labelExpr": "hours(datum.value) == 12 ? timeFormat(datum.value, '%d-%m-%y %H:%M') : ''",
            "labelFlush": false,
            "labelOverlap": false,
            "grid": false,
            "tickSize": 5,
            "labelPadding": 7
          }
        },
        "y": {
          "field": "v",
          "type": "quantitative",
          "scale": {"domain": [-28.2, 140], "nice": false, "zero": false},
          "axis": {
            "values": [-20, 0, 20, 40, 60, 80, 100, 120, 140],
            "labelExpr": "datum.value < 0 ? '-' + abs(datum.value) : '' + datum.value",
            "grid": true,
            "tickSize": 5,
            "labelPadding": 8
          }
        }
      },
      "layer": [
        {
          "transform": [{"filter": "datum.series != 'Series 3'"}],
          "mark": {"type": "line", "strokeWidth": 2.6, "clip": true},
          "encoding": {
            "color": {
              "field": "series",
              "type": "nominal",
              "scale": {"domain": ["Series 1", "Series 2"], "range": ["#3a8bc4", "#d04b4b"]},
              "legend": null
            }
          }
        },
        {
          "transform": [{"filter": "datum.series == 'Series 3'"}],
          "mark": {"type": "line", "strokeWidth": 5, "strokeDash": [17, 9], "color": "#4e91d2", "clip": true},
          "encoding": {}
        }
      ]
    },
    {
      "width": 892,
      "height": 605,
      "data": {"name": "bottom"},
      "encoding": {
        "x": {
          "field": "t",
          "type": "temporal",
          "scale": {
            "domain": [
              {"year": 2004, "month": 11, "date": 22, "hours": 0},
              {"year": 2004, "month": 11, "date": 25, "hours": 12}
            ],
            "nice": false
          },
          "axis": {
            "offset": -196.4,
            "values": [
              {"year": 2004, "month": 11, "date": 22, "hours": 0},
              {"year": 2004, "month": 11, "date": 22, "hours": 6},
              {"year": 2004, "month": 11, "date": 22, "hours": 12},
              {"year": 2004, "month": 11, "date": 22, "hours": 18},
              {"year": 2004, "month": 11, "date": 23, "hours": 0},
              {"year": 2004, "month": 11, "date": 23, "hours": 6},
              {"year": 2004, "month": 11, "date": 23, "hours": 12},
              {"year": 2004, "month": 11, "date": 23, "hours": 18},
              {"year": 2004, "month": 11, "date": 24, "hours": 0},
              {"year": 2004, "month": 11, "date": 24, "hours": 6},
              {"year": 2004, "month": 11, "date": 24, "hours": 12},
              {"year": 2004, "month": 11, "date": 24, "hours": 18},
              {"year": 2004, "month": 11, "date": 25, "hours": 0},
              {"year": 2004, "month": 11, "date": 25, "hours": 6},
              {"year": 2004, "month": 11, "date": 25, "hours": 12}
            ],
            "labelExpr": "hours(datum.value) == 0 ? timeFormat(datum.value, '%d-%m-%y %H:%M') : ''",
            "labelFlush": false,
            "labelOverlap": false,
            "grid": false,
            "tickSize": 5,
            "labelPadding": 7
          }
        },
        "y": {
          "field": "v",
          "type": "quantitative",
          "scale": {"domain": [-72.1, 150], "nice": false, "zero": false},
          "axis": {
            "values": [-50, 0, 50, 100, 150],
            "labelExpr": "datum.value < 0 ? '-' + abs(datum.value) : '' + datum.value",
            "grid": true,
            "tickSize": 5,
            "labelPadding": 8
          }
        }
      },
      "layer": [
        {
          "transform": [{"filter": "datum.series != 'Series 3'"}],
          "mark": {"type": "line", "strokeWidth": 2.6, "clip": true},
          "encoding": {
            "color": {
              "field": "series",
              "type": "nominal",
              "scale": {"domain": ["Series 1", "Series 2"], "range": ["#3a8bc4", "#d04b4b"]},
              "legend": null
            }
          }
        },
        {
          "transform": [{"filter": "datum.series == 'Series 3'"}],
          "mark": {"type": "line", "strokeWidth": 5, "strokeDash": [17, 9], "color": "#4e91d2", "clip": true},
          "encoding": {}
        }
      ]
    }
  ]
}
